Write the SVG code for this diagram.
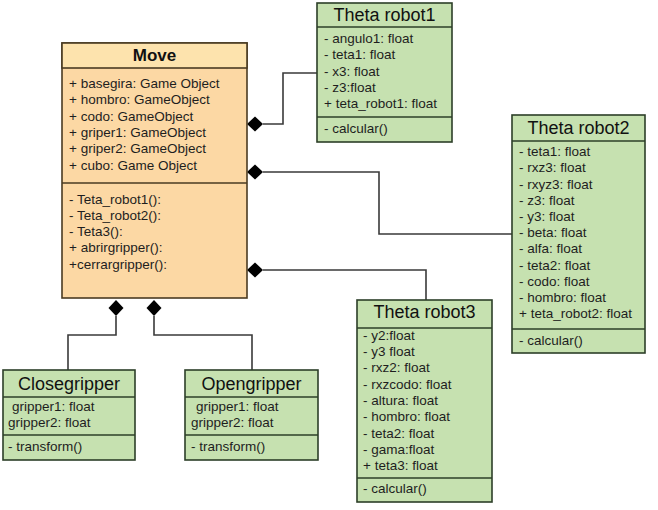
<svg xmlns="http://www.w3.org/2000/svg" width="658" height="510" viewBox="0 0 658 510">
<style>
.bg{fill:#ffffff}
.orange{fill:#fcd8a4;stroke:#4a3b22;stroke-width:1.6}
.orangeh{fill:#fde3ad;stroke:#4a3b22;stroke-width:1.6}
.green{fill:#c6e1b0;stroke:#2c3f28;stroke-width:1.6}
.sep{stroke:#2c3f28;stroke-width:1.6}
.sepo{stroke:#4a3b22;stroke-width:1.6}
.t{font-family:"Liberation Sans",Arial,sans-serif;font-size:13.5px;fill:#1e1e1e}
.title{font-family:"Liberation Sans",Arial,sans-serif;font-size:18px;fill:#111;text-anchor:middle}
.btitle{font-family:"Liberation Sans",Arial,sans-serif;font-size:17px;font-weight:bold;fill:#111;text-anchor:middle}
.conn{fill:none;stroke:#3a3a3a;stroke-width:1.6}
.dia{fill:#000}
</style>
<rect class="bg" x="0" y="0" width="658" height="510"/>
<g id="connectors">
<path class="conn" d="M263,124 H283 V73 H317"/>
<path class="conn" d="M263,172 H379 V234 H512"/>
<path class="conn" d="M263,270 H426 V300"/>
<path class="conn" d="M116,316 V335 H68 V370"/>
<path class="conn" d="M154,316 V335 H252 V370"/>
<polygon class="dia" points="247,124 255,116.5 263,124 255,131.5"/>
<polygon class="dia" points="247,172 255,164.5 263,172 255,179.5"/>
<polygon class="dia" points="247,270 255,262.5 263,270 255,277.5"/>
<polygon class="dia" points="116,300 123.5,308 116,316 108.5,308"/>
<polygon class="dia" points="154,300 161.5,308 154,316 146.5,308"/>
</g>
<g id="move">
<rect class="orange" x="62" y="43" width="185" height="255"/>
<rect class="orangeh" x="62" y="43" width="185" height="25"/>
<line class="sepo" x1="62" y1="183" x2="247" y2="183"/>
<text class="btitle" x="154.5" y="61">Move</text>
<text class="t" x="69" y="88">+ basegira: Game Object</text>
<text class="t" x="69" y="104">+ hombro: GameObject</text>
<text class="t" x="69" y="120.5">+ codo: GameObject</text>
<text class="t" x="69" y="137">+ griper1: GameObject</text>
<text class="t" x="69" y="153">+ griper2: GameObject</text>
<text class="t" x="69" y="169.5">+ cubo: Game Object</text>
<text class="t" x="69" y="204">- Teta_robot1():</text>
<text class="t" x="69" y="220">- Teta_robot2():</text>
<text class="t" x="69" y="236">- Teta3():</text>
<text class="t" x="69" y="252">+ abrirgripper():</text>
<text class="t" x="69" y="268.5">+cerrargripper():</text>
</g>
<g id="theta1">
<rect class="green" x="317" y="3" width="135" height="139"/>
<line class="sep" x1="317" y1="27" x2="452" y2="27"/>
<line class="sep" x1="317" y1="117" x2="452" y2="117"/>
<text class="title" x="384.5" y="21">Theta robot1</text>
<text class="t" x="324" y="43">- angulo1: float</text>
<text class="t" x="324" y="59">- teta1: float</text>
<text class="t" x="324" y="75.5">- x3: float</text>
<text class="t" x="324" y="91.5">- z3:float</text>
<text class="t" x="324" y="108">+ teta_robot1: float</text>
<text class="t" x="324" y="133">- calcular()</text>
</g>
<g id="theta2">
<rect class="green" x="512" y="115" width="133" height="238"/>
<line class="sep" x1="512" y1="141" x2="645" y2="141"/>
<line class="sep" x1="512" y1="329" x2="645" y2="329"/>
<text class="title" x="578.5" y="134">Theta robot2</text>
<text class="t" x="519" y="156">- teta1: float</text>
<text class="t" x="519" y="172">- rxz3: float</text>
<text class="t" x="519" y="188.5">- rxyz3: float</text>
<text class="t" x="519" y="205">- z3: float</text>
<text class="t" x="519" y="221">- y3: float</text>
<text class="t" x="519" y="237">- beta: float</text>
<text class="t" x="519" y="253">- alfa: float</text>
<text class="t" x="519" y="269.5">- teta2: float</text>
<text class="t" x="519" y="286">- codo: float</text>
<text class="t" x="519" y="302">- hombro: float</text>
<text class="t" x="519" y="318">+ teta_robot2: float</text>
<text class="t" x="519" y="345">- calcular()</text>
</g>
<g id="theta3">
<rect class="green" x="357" y="300" width="135" height="202"/>
<line class="sep" x1="357" y1="328" x2="492" y2="328"/>
<line class="sep" x1="357" y1="478" x2="492" y2="478"/>
<text class="title" x="424.5" y="318">Theta robot3</text>
<text class="t" x="363" y="339.5">- y2:float</text>
<text class="t" x="363" y="355.5">- y3 float</text>
<text class="t" x="363" y="372">- rxz2: float</text>
<text class="t" x="363" y="388.5">- rxzcodo: float</text>
<text class="t" x="363" y="404.5">- altura: float</text>
<text class="t" x="363" y="421">- hombro: float</text>
<text class="t" x="363" y="437.5">- teta2: float</text>
<text class="t" x="363" y="453.5">- gama:float</text>
<text class="t" x="363" y="470">+ teta3: float</text>
<text class="t" x="363" y="493">- calcular()</text>
</g>
<g id="closegripper">
<rect class="green" x="3" y="370" width="132" height="90"/>
<line class="sep" x1="3" y1="397" x2="135" y2="397"/>
<line class="sep" x1="3" y1="435" x2="135" y2="435"/>
<text class="title" x="69" y="390">Closegripper</text>
<text class="t" x="12" y="411">gripper1: float</text>
<text class="t" x="8" y="427">gripper2: float</text>
<text class="t" x="8" y="451">- transform()</text>
</g>
<g id="opengripper">
<rect class="green" x="185" y="370" width="133" height="90"/>
<line class="sep" x1="185" y1="397" x2="318" y2="397"/>
<line class="sep" x1="185" y1="435" x2="318" y2="435"/>
<text class="title" x="251.5" y="390">Opengripper</text>
<text class="t" x="196" y="411">gripper1: float</text>
<text class="t" x="191" y="427">gripper2: float</text>
<text class="t" x="191" y="451">- transform()</text>
</g>
</svg>
